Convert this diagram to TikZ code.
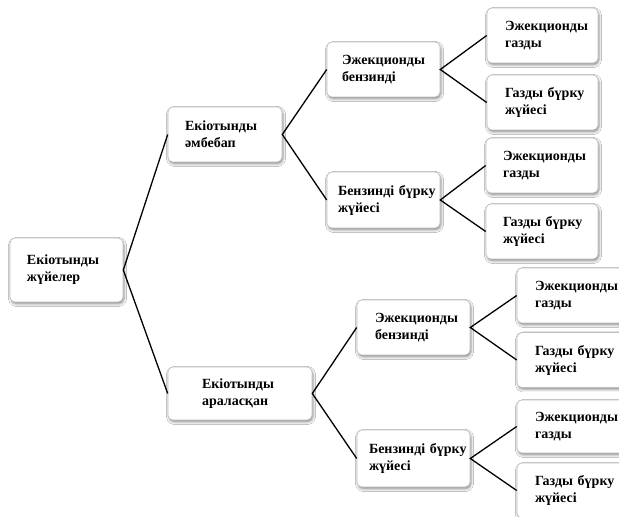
\documentclass[tikz,border=0pt]{standalone}
\usepackage{fontspec}
\setmainfont{Liberation Serif}
\usetikzlibrary{shadows.blur}
\begin{document}
\begin{tikzpicture}[x=1pt,y=1pt,
  box/.style={draw=gray!50, line width=0.6pt, rounded corners=5pt, fill=white,
    blur shadow={shadow xshift=1pt, shadow yshift=-2pt, shadow blur radius=2.5pt, shadow opacity=45},
    font=\fontsize{14}{17}\selectfont\bfseries, align=left, anchor=center,
    inner xsep=16pt, inner ysep=0pt},
  link/.style={line width=1.3pt, black}]
\useasboundingbox (0,0) rectangle (619,517);
\clip (0,0) rectangle (619,517);
\fill[white] (0,0) rectangle (619,517);
% y in picture = 517 - pixel y
\node[box, text width=79, minimum height=64, inner xsep=17pt] (b1) at (66.5,247) {Екiотынды\\жүйелер};
\node[box, text width=80, minimum height=55, inner xsep=17pt] (b2) at (225,382.5) {Екiотынды\\әмбебап};
\node[box, text width=83, minimum height=55, inner xsep=15pt] (b3) at (383.5,447.5) {Эжекционды\\бензинді};
\node[box, text width=75, minimum height=55, inner xsep=18pt] (b4) at (542.5,481.5) {Эжекционды\\газды};
\node[box, text width=75, minimum height=55, inner xsep=18pt] (b5) at (542.5,414.5) {Газды~бүрку\\жүйесі};
\node[box, text width=91, minimum height=56, inner xsep=11pt] (b6) at (383.5,317) {Бензинді~бүрку\\жүйесі};
\node[box, text width=78, minimum height=55, inner xsep=17pt] (b7) at (542,351.5) {Эжекционды\\газды};
\node[box, text width=78, minimum height=55, inner xsep=17pt] (b8) at (542,285.5) {Газды~бүрку\\жүйесі};
\node[box, text width=76, minimum height=53, inner xsep=34pt] (b9) at (240,123.5) {Екiотынды\\араласқан};
\node[box, text width=77, minimum height=55, inner xsep=18pt] (b10) at (413.5,189.5) {Эжекционды\\бензинді};
\node[box, text width=75, minimum height=55, inner xsep=18pt] (b11) at (572.5,221.5) {Эжекционды\\газды};
\node[box, text width=75, minimum height=55, inner xsep=18pt] (b12) at (572.5,157) {Газды~бүрку\\жүйесі};
\node[box, text width=89, minimum height=57, inner xsep=12pt] (b13) at (413.5,58.5) {Бензинді~бүрку\\жүйесі};
\node[box, text width=75, minimum height=53, inner xsep=18pt] (b14) at (572.5,90.5) {Эжекционды\\газды};
\node[box, text width=75, minimum height=55, inner xsep=18pt] (b15) at (572.5,26.5) {Газды~бүрку\\жүйесі};
\draw[link] (b2.west) -- (b1.east) -- (b9.west);
\draw[link] (b3.west) -- (b2.east) -- (b6.west);
\draw[link] (b4.west) -- (b3.east) -- (b5.west);
\draw[link] (b7.west) -- (b6.east) -- (b8.west);
\draw[link] (b10.west) -- (b9.east) -- (b13.west);
\draw[link] (b11.west) -- (b10.east) -- (b12.west);
\draw[link] (b14.west) -- (b13.east) -- (b15.west);
\end{tikzpicture}
\end{document}
